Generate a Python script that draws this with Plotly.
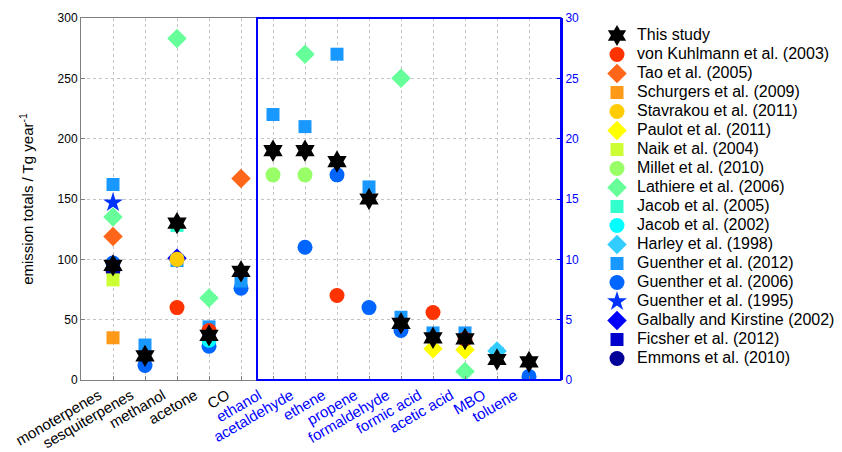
import plotly.graph_objects as go

N = None
categories = ["monoterpenes", "sesquiterpenes", "methanol", "acetone", "CO",
              "ethanol", "acetaldehyde", "ethene", "propene", "formaldehyde",
              "formic acid", "acetic acid", "MBO", "toluene"]
n_left = 5  # first five categories use the left axis (0-300), the rest the right axis (0-30)

this_study   = [95, 20, 130, 37, 90, 19, 19, 18.1, 15, 4.7, 3.5, 3.4, 1.7, 1.5]
von_kuhlmann = [N, N, 60, 41, N, N, N, 7, N, N, 5.6, 3.4, N, N]
tao          = [119, N, N, N, 167, N, N, N, N, N, N, N, N, N]
schurgers    = [35, N, N, N, N, N, N, N, N, N, N, N, N, N]
stavrakou    = [N, N, 100, N, N, N, N, N, N, N, N, N, N, N]
paulot       = [N, N, N, N, N, N, N, N, N, N, 2.6, 2.5, N, N]
naik         = [83, N, N, N, N, N, N, N, N, N, N, N, N, N]
millet       = [N, N, N, N, N, 17, 17, N, N, N, N, N, N, N]
lathiere     = [135, N, 283, 68, N, N, 27, N, N, 25, N, 0.7, N, N]
jacob2005    = [N, N, 128, N, N, N, N, N, N, N, N, N, N, N]
jacob2002    = [N, N, N, 33, N, N, N, N, N, N, N, N, N, N]
harley       = [N, N, N, N, N, N, N, N, N, N, N, N, 2.4, N]
guenther2012 = [162, 29, 99, 44, 82, 22, 21, 27, 16, 5.2, 3.9, 3.9, 2.2, N]
guenther2006 = [97, 12, N, 28, 76, N, 11, 17, 6, 4.1, N, N, N, 0.3]
guenther1995 = [147, N, N, N, N, N, N, N, N, N, N, N, N, N]
galbally     = [N, N, 101, N, N, N, N, N, N, N, N, N, N, N]
fischer      = [N, N, N, 36, N, N, N, N, N, N, N, N, N, N]
emmons       = [91, N, N, N, N, N, N, N, N, N, N, N, N, N]

studies = [
    ("This study", this_study, "hexagram", "#000000", 17),
    ("von Kuhlmann et al. (2003)", von_kuhlmann, "circle", "#FF3300", 15),
    ("Tao et al. (2005)", tao, "diamond", "#FF6619", 15),
    ("Schurgers et al. (2009)", schurgers, "square", "#FF9919", 13),
    ("Stavrakou et al. (2011)", stavrakou, "circle", "#FFCC00", 15),
    ("Paulot et al. (2011)", paulot, "diamond", "#FFFF00", 15),
    ("Naik et al. (2004)", naik, "square", "#CCFF33", 13),
    ("Millet et al. (2010)", millet, "circle", "#99FF66", 15),
    ("Lathiere et al. (2006)", lathiere, "diamond", "#66FF99", 15),
    ("Jacob et al. (2005)", jacob2005, "square", "#33FFCC", 13),
    ("Jacob et al. (2002)", jacob2002, "circle", "#00FFFF", 15),
    ("Harley et al. (1998)", harley, "diamond", "#33CCFF", 15),
    ("Guenther et al. (2012)", guenther2012, "square", "#1999FF", 13),
    ("Guenther et al. (2006)", guenther2006, "circle", "#0066FF", 15),
    ("Guenther et al. (1995)", guenther1995, "star", "#0033FF", 15),
    ("Galbally and Kirstine (2002)", galbally, "diamond", "#0000FF", 15),
    ("Ficsher et al. (2012)", fischer, "square", "#0000CC", 13),
    ("Emmons et al. (2010)", emmons, "circle", "#000099", 15),
]

fig = go.Figure()

# draw in reverse so that "This study" ends up on top
for rank, (name, vals, sym, col, size) in reversed(list(enumerate(studies))):
    left = [(c, v) for c, v in zip(categories[:n_left], vals[:n_left]) if v is not None]
    right = [(c, v) for c, v in zip(categories[n_left:], vals[n_left:]) if v is not None]
    marker = dict(symbol=sym, color=col, size=size, line=dict(width=0))
    shown = False
    for pts, ax in ((left, "y"), (right, "y2")):
        if not pts and not (ax == "y2" and not shown):
            continue
        fig.add_trace(go.Scatter(
            x=[p[0] for p in pts], y=[p[1] for p in pts], yaxis=ax,
            mode="markers", name=f'<span style="font-size:16px">{name}</span>',
            marker=marker, legendgroup=name, showlegend=not shown,
            legendrank=rank + 1, hoverinfo="x+y",
        ))
        shown = True

ticktext = [c if i < n_left else f'<span style="color:#0000FF">{c}</span>'
            for i, c in enumerate(categories)]

fig.update_layout(
    width=842, height=452,
    margin=dict(l=81, r=281, t=18, b=72, autoexpand=False),
    paper_bgcolor="white", plot_bgcolor="white",
    font=dict(family="Liberation Sans, Arial, sans-serif", color="black"),
    xaxis=dict(
        type="category", categoryorder="array", categoryarray=categories,
        range=[-1, 14], tickmode="array", tickvals=categories, ticktext=ticktext,
        tickangle=-30, tickfont=dict(size=15), automargin=False, ticklabelshift=-14,
        showgrid=True, griddash="dot", gridcolor="#c4c4c4", gridwidth=1,
        showline=True, linecolor="#808080", linewidth=1, mirror=True,
        ticks="inside", ticklen=4, tickcolor="#808080", zeroline=False,
    ),
    yaxis=dict(
        range=[0, 300], tickvals=[0, 50, 100, 150, 200, 250, 300],
        tickfont=dict(size=12), showgrid=True, griddash="dot", automargin=False,
        gridcolor="#c4c4c4", showline=True, linecolor="#808080", mirror=True,
        ticks="inside", ticklen=4, tickcolor="#808080", zeroline=False,
        title=dict(text="emission totals / Tg year<sup>-1</sup>", font=dict(size=15), standoff=20),
    ),
    yaxis2=dict(
        range=[0, 30], tickvals=[0, 5, 10, 15, 20, 25, 30], overlaying="y", side="right",
        tickfont=dict(size=12, color="#0000FF"), showgrid=False, automargin=False,
        showline=True, linecolor="#0000FF", linewidth=2,
        ticks="inside", ticklen=4, tickcolor="#0000FF", zeroline=False,
    ),
    legend=dict(
        x=1.075, y=(452 - 21) / 452, xanchor="left", yanchor="top", yref="container",
        maxheight=440,
        font=dict(size=12.3), bgcolor="rgba(0,0,0,0)", itemsizing="trace",
        traceorder="normal",
    ),
    shapes=[dict(type="rect", xref="x", yref="paper", x0=4.5, x1=14, y0=0, y1=1,
                 line=dict(color="#0000FF", width=2), layer="above")],
)

fig.write_html("out.html", config={"displayModeBar": False},
               post_script="document.body.style.margin='0';")
